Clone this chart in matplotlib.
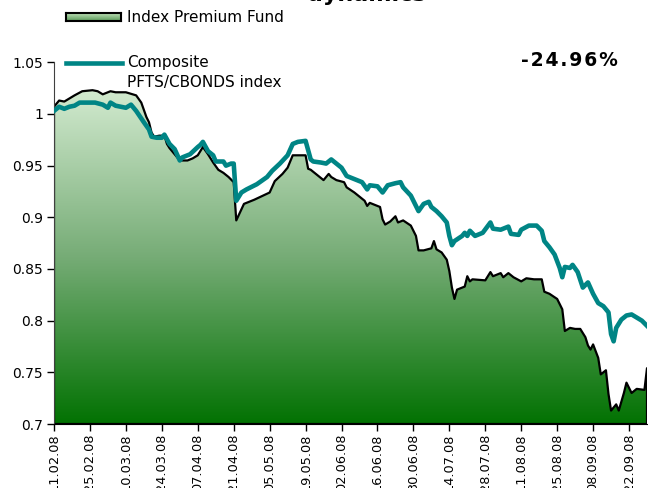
import numpy as np
import pandas as pd
import matplotlib
matplotlib.use("Agg")
import matplotlib.pyplot as plt
import matplotlib.dates as mdates
from matplotlib.colors import LinearSegmentedColormap

# ---------------- data ----------------
start_date = "2008-02-11"
fund_name = "Index Premium Fund"
comp_name = "Composite\nPFTS/CBONDS index"
result_text = "-24.96%"
title_text = "dynamics"

fund_day = [0, 2, 4, 6, 8, 11, 15, 17, 19, 22, 24, 28, 32, 34, 36, 37, 38, 39, 41, 43,
            44, 45, 47, 49, 52, 54, 56, 58, 60, 62, 64, 66, 68, 70, 71, 74, 78, 84, 86, 89,
            91, 93, 98, 99, 100, 102, 105, 107, 108, 110, 113, 114, 117, 121, 122, 123, 127, 128, 129, 131,
            133, 134, 136, 139, 141, 142, 144, 147, 148, 149, 151, 153, 154, 155, 156, 157, 160, 161, 162, 163,
            168, 170, 171, 174, 175, 177, 179, 182, 184, 187, 190, 191, 193, 196, 198, 199, 201, 203, 205, 207,
            208, 209, 210, 212, 213, 215, 216, 217, 219, 220, 222, 223, 225, 227, 230, 231]
fund_val = [1.007, 1.013, 1.012, 1.015, 1.018, 1.022, 1.023, 1.022, 1.019, 1.022, 1.021, 1.021, 1.018, 1.011, 0.997, 0.992, 0.982, 0.978, 0.979, 0.979,
            0.971, 0.967, 0.961, 0.955, 0.955, 0.957, 0.960, 0.968, 0.961, 0.953, 0.946, 0.943, 0.939, 0.934, 0.897, 0.913, 0.917, 0.924, 0.935, 0.942,
            0.948, 0.960, 0.960, 0.947, 0.946, 0.942, 0.936, 0.942, 0.939, 0.936, 0.934, 0.929, 0.924, 0.916, 0.911, 0.914, 0.910, 0.898, 0.893, 0.896,
            0.901, 0.895, 0.897, 0.892, 0.882, 0.868, 0.868, 0.870, 0.877, 0.869, 0.866, 0.859, 0.848, 0.832, 0.821, 0.830, 0.833, 0.843, 0.838, 0.840,
            0.839, 0.847, 0.843, 0.846, 0.842, 0.846, 0.842, 0.838, 0.841, 0.840, 0.840, 0.828, 0.826, 0.821, 0.811, 0.790, 0.793, 0.792, 0.792, 0.784,
            0.776, 0.772, 0.777, 0.764, 0.748, 0.752, 0.729, 0.713, 0.719, 0.713, 0.730, 0.740, 0.730, 0.734, 0.733, 0.754]

comp_day = [0, 2, 4, 6, 8, 10, 16, 19, 21, 22, 24, 28, 30, 32, 35, 37, 38, 40, 42, 43,
            45, 47, 49, 50, 53, 56, 57, 58, 60, 62, 63, 66, 67, 69, 70, 71, 73, 75, 79, 83,
            85, 88, 91, 93, 95, 98, 100, 101, 104, 106, 108, 110, 112, 114, 115, 118, 120, 122, 123, 126,
            128, 130, 133, 135, 136, 139, 142, 144, 146, 147, 149, 151, 153, 154, 155, 156, 159, 160, 161, 162,
            164, 167, 170, 171, 174, 177, 178, 181, 182, 185, 188, 190, 191, 193, 195, 197, 198, 199, 201, 202,
            204, 206, 208, 210, 212, 214, 216, 217, 218, 219, 221, 223, 225, 227, 229, 231]
comp_val = [1.003, 1.007, 1.005, 1.007, 1.008, 1.011, 1.011, 1.009, 1.006, 1.011, 1.008, 1.006, 1.009, 1.003, 0.992, 0.985, 0.978, 0.977, 0.977, 0.980,
            0.971, 0.966, 0.955, 0.958, 0.961, 0.968, 0.970, 0.973, 0.964, 0.960, 0.954, 0.954, 0.950, 0.952, 0.952, 0.916, 0.924, 0.927, 0.932, 0.939,
            0.945, 0.952, 0.960, 0.971, 0.973, 0.974, 0.956, 0.954, 0.953, 0.952, 0.956, 0.952, 0.948, 0.940, 0.939, 0.936, 0.934, 0.927, 0.931, 0.930,
            0.924, 0.931, 0.933, 0.934, 0.929, 0.921, 0.906, 0.913, 0.915, 0.910, 0.906, 0.901, 0.895, 0.882, 0.873, 0.877, 0.882, 0.885, 0.882, 0.887,
            0.882, 0.885, 0.895, 0.889, 0.888, 0.891, 0.884, 0.883, 0.888, 0.892, 0.892, 0.887, 0.877, 0.871, 0.864, 0.851, 0.842, 0.852, 0.851, 0.854,
            0.847, 0.832, 0.837, 0.826, 0.817, 0.814, 0.808, 0.787, 0.780, 0.793, 0.801, 0.805, 0.806, 0.803, 0.800, 0.795]

y_ticks = [0.7, 0.75, 0.8, 0.85, 0.9, 0.95, 1.0, 1.05]
y_tick_labels = ["0.7", "0.75", "0.8", "0.85", "0.9", "0.95", "1", "1.05"]
tick_step_days = 14
# --------------------------------------

plt.rcParams['font.family'] = ['DejaVu Sans']

t0 = pd.Timestamp(start_date)
fund_x = mdates.date2num(t0 + pd.to_timedelta(fund_day, unit="D"))
comp_x = mdates.date2num(t0 + pd.to_timedelta(comp_day, unit="D"))
fy = np.array(fund_val)
cy = np.array(comp_val)

W, H = 648, 488
fig = plt.figure(figsize=(W / 100, H / 100), dpi=100)
ax = fig.add_axes([54 / W, 1 - 424 / H, (647 - 54) / W, (424 - 62.3) / H])

ymin, ymax = 0.7, 1.05
xmin, xmax = fund_x[0], fund_x[-1]

cmap = LinearSegmentedColormap.from_list(
    "g", [(0.0, (2 / 255, 114 / 255, 2 / 255)),
          (0.5, (118 / 255, 172 / 255, 118 / 255)),
          (1.0, (210 / 255, 234 / 255, 207 / 255))])

# gradient fill clipped to the area
poly = ax.fill_between(fund_x, ymin, fy, facecolor="none", edgecolor="none")
grad = np.linspace(0, 1, 256).reshape(-1, 1)
im = ax.imshow(grad, cmap=cmap, origin="lower", aspect="auto",
               extent=[xmin, xmax, ymin, fy.max()], zorder=1)
im.set_clip_path(poly.get_paths()[0], transform=ax.transData)
# outline of area
ax.fill_between(fund_x, ymin, fy, facecolor="none", edgecolor="black", linewidth=1.6, zorder=2)
ax.plot(comp_x, cy, color="#008585", linewidth=3.3, solid_joinstyle="round", zorder=3)
ax.set_xlim(xmin, xmax)
ax.set_ylim(ymin, ymax)

# ticks
tick_dates = mdates.date2num(pd.date_range(t0, t0 + pd.Timedelta(days=231), freq=f"{tick_step_days}D"))
ax.set_xticks(tick_dates)
ax.set_xticklabels([mdates.num2date(d).strftime("%d.%m.%y") for d in tick_dates],
                   rotation=90, fontsize=9.3)
ax.set_yticks(y_ticks)
ax.set_yticklabels(y_tick_labels, fontsize=10)
ax.tick_params(axis="both", direction="out", length=5, width=1, color="black", pad=3)
ax.tick_params(axis="x", pad=2)
for s in ["top", "right"]:
    ax.spines[s].set_visible(False)
ax.spines["left"].set_color("#404040")
ax.spines["bottom"].set_color("black")

# legend (manual)
lax = fig.add_axes([66 / W, 1 - 21 / H, 55 / W, 8 / H])
lax.imshow(grad, cmap=LinearSegmentedColormap.from_list("g2", [(0.35, 0.6, 0.35), (0.75, 0.88, 0.72)]),
           origin="lower", aspect="auto", extent=[0, 1, 0, 1])
lax.set_xticks([]); lax.set_yticks([])
for s in lax.spines.values():
    s.set_linewidth(1.5)
    s.set_color("black")
fig.text(127 / W, 1 - 17 / H, fund_name, fontsize=11, va="center", ha="left")

fig.add_artist(plt.Line2D([66 / W, 122 / W], [1 - 63 / H, 1 - 63 / H], color="#008585",
                          linewidth=3.3, transform=fig.transFigure))
fig.text(127 / W, 1 - 63 / H, comp_name.split("\n")[0], fontsize=11, va="center", ha="left")
fig.text(127 / W, 1 - 83 / H, comp_name.split("\n")[1], fontsize=11, va="center", ha="left")

fig.text(569 / W, 1 - 60 / H, "\u200a".join(result_text), fontsize=13.5, fontweight="bold",
         va="center", ha="center")
fig.text(366 / W, 1 - 1 / H, title_text, fontsize=16, fontweight="bold", va="baseline", ha="center")

fig.savefig("out.png", dpi=100)
